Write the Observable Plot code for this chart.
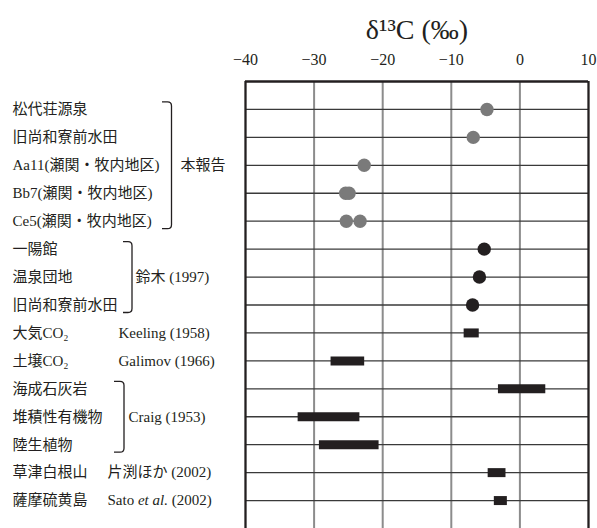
<!DOCTYPE html>
<html>
<head>
<meta charset="utf-8">
<script src="https://cdn.jsdelivr.net/npm/d3@7"></script>
<script src="https://cdn.jsdelivr.net/npm/@observablehq/plot@0.6"></script>
<style>
  html, body { margin: 0; padding: 0; background: #fff; }
</style>
</head>
<body>
<div id="chart"></div>
<script>
// ---- data ----
const rowLabels = [
  "松代荘源泉", "旧尚和寮前水田", "Aa11(瀬関・牧内地区)", "Bb7(瀬関・牧内地区)", "Ce5(瀬関・牧内地区)",
  "一陽館", "温泉団地", "旧尚和寮前水田",
  "大気CO₂", "土壌CO₂",
  "海成石灰岩", "堆積性有機物", "陸生植物",
  "草津白根山", "薩摩硫黄島"
];
const rowIndex = rowLabels.map((_, i) => i + 1);

// point measurements (row number, δ13C value, source)
const dotRow = [1, 2, 3, 4, 4, 5, 5, 6, 7, 8];
const dotValue = [-4.8, -6.8, -22.7, -25.4, -24.9, -25.3, -23.3, -5.2, -5.9, -6.9];
const dotSource = ["本報告", "本報告", "本報告", "本報告", "本報告", "本報告", "本報告", "鈴木", "鈴木", "鈴木"];

// range measurements (row number, low, high)
const barRow = [9, 10, 11, 12, 13, 14, 15];
const barLow = [-8.2, -27.6, -3.2, -32.4, -29.3, -4.7, -3.8];
const barHigh = [-6.0, -22.7, 3.7, -23.4, -20.6, -2.1, -1.9];

const xTicks = [-40, -30, -20, -10, 0, 10];
const gridX = [-30, -20, -10, 0];
const titleText = "δ¹³C (‰)";

// source annotations
const srcHonhoukoku = [{text: "本報告", row: 3}];
const srcSuzuki = [{text: "鈴木 (1997)", row: 7}];
const srcKeeling = [{text: "Keeling (1958)", row: 9}, {text: "Galimov (1966)", row: 10}];
const srcCraig = [{text: "Craig (1953)", row: 12}];
const srcLast = [{text: "片渕ほか (2002)", row: 14}, {text: "Sato et al. (2002)", row: 15}];
// bracket groups: first row, last row
const bracketFirst = [1, 6, 11];
const bracketLast = [5, 8, 13];

// ---- build tables ----
const rows = rowLabels.map((label, i) => ({label, row: rowIndex[i]}));
const dots = dotRow.map((row, i) => ({row, value: dotValue[i], source: dotSource[i]}));
const bars = barRow.map((row, i) => ({row, lo: barLow[i], hi: barHigh[i]}));

const ink = "#231f20";
const bracketX = [[162, 171.5], [123, 132], [114, 124]];

function brackets(index, scales, values, dimensions) {
  const g = d3.create("svg:g");
  bracketFirst.forEach((f, i) => {
    const top = scales.y(f) - 7;
    const bot = scales.y(bracketLast[i]) + 8;
    const [x0, x1] = bracketX[i];
    const r = 4;
    g.append("path")
      .attr("d", `M${x0},${top}H${x1 - r}Q${x1},${top} ${x1},${top + r}V${bot - r}Q${x1},${bot} ${x1 - r},${bot}H${x0}`)
      .attr("fill", "none")
      .attr("stroke", ink)
      .attr("stroke-width", 1.3);
  });
  return g.node();
}

const textFont = '"Liberation Serif", "Noto Sans CJK JP", serif';

const chart = Plot.plot({
  width: 597,
  height: 528,
  marginLeft: 245,
  marginRight: 9,
  marginTop: 81,
  marginBottom: 0,
  x: {domain: [-40, 10], axis: null},
  y: {domain: [0, 16], axis: null, reverse: true},
  style: {fontFamily: textFont, fontSize: "15px", color: ink, background: "#fff"},
  marks: [
    Plot.ruleX(gridX, {stroke: "#8c8c8c", strokeWidth: 2}),
    Plot.ruleY(rowIndex, {stroke: "#3a3a3a", strokeWidth: 1.3}),
    Plot.ruleX([-40, 10], {stroke: ink, strokeWidth: 2.3}),
    Plot.ruleY([0], {stroke: ink, strokeWidth: 2.3}),
    Plot.axisX(xTicks, {anchor: "top", tickSize: 0, tickPadding: 17, fontSize: 16, fontFamily: textFont, label: null}),
    Plot.link(bars, {x1: "lo", x2: "hi", y1: "row", y2: "row", stroke: ink, strokeWidth: 9}),
    Plot.dot(dots, {x: "value", y: "row", r: 6.7, fill: d => d.source === "本報告" ? "#7a7a7a" : ink, stroke: null}),
    Plot.text(rows, {y: "row", text: "label", frameAnchor: "left", textAnchor: "start", dx: -233, fontSize: 15}),
    Plot.text(srcHonhoukoku, {y: "row", text: "text", frameAnchor: "left", textAnchor: "start", dx: -65, fontSize: 15}),
    Plot.text(srcSuzuki, {y: "row", text: "text", frameAnchor: "left", textAnchor: "start", dx: -110, fontSize: 15}),
    Plot.text(srcKeeling, {y: "row", text: "text", frameAnchor: "left", textAnchor: "start", dx: -127, fontSize: 15}),
    Plot.text(srcCraig, {y: "row", text: "text", frameAnchor: "left", textAnchor: "start", dx: -117, fontSize: 15}),
    Plot.text(srcLast, {y: "row", text: "text", frameAnchor: "left", textAnchor: "start", dx: -138, fontSize: 15}),
    brackets,
    Plot.text([titleText], {frameAnchor: "top", lineAnchor: "middle", dy: -51, fontSize: 28, fontFamily: textFont})
  ]
});

// italicize "et al."
d3.select(chart).selectAll("text").each(function () {
  const t = this.textContent;
  if (t === "Sato et al. (2002)") {
    const sel = d3.select(this);
    sel.text("");
    sel.append("tspan").text("Sato ");
    sel.append("tspan").attr("font-style", "italic").text("et al.");
    sel.append("tspan").text(" (2002)");
  }
});

document.getElementById("chart").appendChild(chart);
</script>
</body>
</html>
